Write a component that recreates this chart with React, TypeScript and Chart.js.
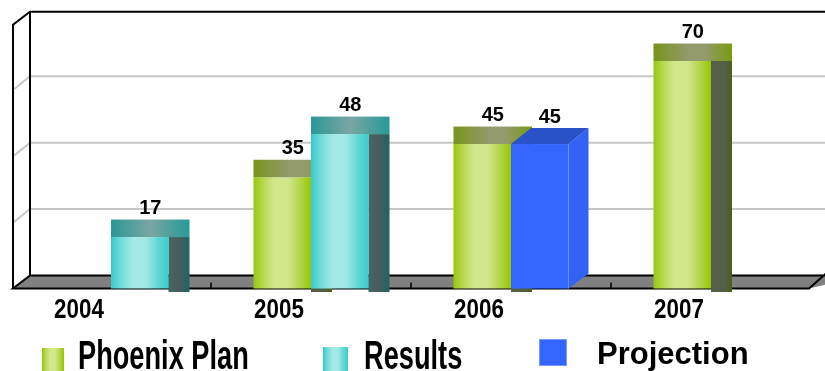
import React, { useEffect, useRef } from "react";
import { Chart, registerables } from "chart.js";

Chart.register(...registerables);

// ---- data ----
const years = ["2004", "2005", "2006", "2007"];
const phoenixPlan: (number | null)[] = [null, 35, 45, 70];
const results: (number | null)[] = [17, 48, null, null];
const projection: (number | null)[] = [null, null, 45, null];
const yMax = 80;
const gridValues = [20, 40, 60];
const legendLabels = ["Phoenix Plan", "Results", "Projection"];

// ---- styling ----
const SANS = "'Liberation Sans', Arial, sans-serif";
const SIDE_W = 21; // depth of bar side face
const TOP_H = 17.5; // height of bar top band
const WALL_DY = 18; // back wall offset (vertical) vs. front scale
const SIDE_DX = 17; // side wall depth
const SIDE_DY = 13;

function greenFront(ctx: CanvasRenderingContext2D, x0: number, x1: number) {
  const g = ctx.createLinearGradient(x0, 0, x1, 0);
  g.addColorStop(0, "#98C60C");
  g.addColorStop(0.15, "#B4D648");
  g.addColorStop(0.35, "#D2E68C");
  g.addColorStop(0.6, "#D2E68C");
  g.addColorStop(0.8, "#B6D64E");
  g.addColorStop(1, "#98C400");
  return g;
}
function greenTop(ctx: CanvasRenderingContext2D, x0: number, x1: number) {
  const g = ctx.createLinearGradient(x0, 0, x1, 0);
  g.addColorStop(0, "#78941C");
  g.addColorStop(0.45, "#939A6C");
  g.addColorStop(0.65, "#939A6C");
  g.addColorStop(1, "#789A10");
  return g;
}
function greenSide(ctx: CanvasRenderingContext2D, x0: number, x1: number) {
  const g = ctx.createLinearGradient(x0, 0, x1, 0);
  g.addColorStop(0, "#565E4C");
  g.addColorStop(0.7, "#545E44");
  g.addColorStop(1, "#4A6010");
  return g;
}
function cyanFront(ctx: CanvasRenderingContext2D, x0: number, x1: number) {
  const g = ctx.createLinearGradient(x0, 0, x1, 0);
  g.addColorStop(0, "#38CACA");
  g.addColorStop(0.2, "#78DEDC");
  g.addColorStop(0.4, "#A6EAE8");
  g.addColorStop(0.6, "#A2E8E6");
  g.addColorStop(0.85, "#5AD4D2");
  g.addColorStop(1, "#38CCCC");
  return g;
}
function cyanTop(ctx: CanvasRenderingContext2D, x0: number, x1: number) {
  const g = ctx.createLinearGradient(x0, 0, x1, 0);
  g.addColorStop(0, "#2A9896");
  g.addColorStop(0.5, "#7AA6A4");
  g.addColorStop(1, "#269A98");
  return g;
}
function cyanSide(ctx: CanvasRenderingContext2D, x0: number, x1: number) {
  const g = ctx.createLinearGradient(x0, 0, x1, 0);
  g.addColorStop(0, "#3C6A68");
  g.addColorStop(0.4, "#4E5A5A");
  g.addColorStop(1, "#1E6664");
  return g;
}

const BLUE_FRONT = "#3366FF";
const BLUE_TOP = "#2A52C8";
const BLUE_SIDE = "#3262F6";

function drawScaledText(
  ctx: CanvasRenderingContext2D,
  t: string,
  x: number,
  y: number,
  sx: number,
  align: "left" | "center"
) {
  ctx.save();
  ctx.translate(x, y);
  ctx.scale(sx, 1);
  ctx.textAlign = align;
  ctx.fillText(t, 0, 0);
  ctx.restore();
}

const chart3dPlugin = {
  id: "chart3d",
  beforeDatasetsDraw(chart: any) {
    const ctx: CanvasRenderingContext2D = chart.ctx;
    const ca = chart.chartArea;
    const ys = chart.scales.y;
    const xs = chart.scales.x;
    const W = chart.width;
    const backY = (v: number) => ys.getPixelForValue(v) - WALL_DY;
    const frontLeft = ca.left + 2;
    const backLeft = frontLeft + SIDE_DX;
    const floorBack = backY(0);
    const floorFront = floorBack + SIDE_DY;
    const topBack = backY(yMax) + 2;

    ctx.save();
    // side wall
    ctx.fillStyle = "#FFFFFF";
    ctx.beginPath();
    ctx.moveTo(frontLeft, floorFront);
    ctx.lineTo(frontLeft, topBack + SIDE_DY);
    ctx.lineTo(backLeft, topBack);
    ctx.lineTo(backLeft, floorBack);
    ctx.closePath();
    ctx.fill();

    // grid lines
    ctx.strokeStyle = "#C8C8C8";
    ctx.lineWidth = 2;
    for (const v of gridValues) {
      const y = backY(v);
      ctx.beginPath();
      ctx.moveTo(frontLeft + 1, y + SIDE_DY);
      ctx.lineTo(backLeft, y);
      ctx.lineTo(W + 2, y);
      ctx.stroke();
    }

    // floor
    ctx.fillStyle = "#808080";
    ctx.beginPath();
    ctx.moveTo(frontLeft, floorFront);
    ctx.lineTo(backLeft, floorBack);
    ctx.lineTo(W + 40, floorBack);
    ctx.lineTo(ca.right - 2, floorFront);
    ctx.closePath();
    ctx.fill();

    ctx.strokeStyle = "#000000";
    ctx.lineWidth = 2;
    ctx.lineJoin = "miter";
    ctx.beginPath();
    ctx.moveTo(W + 40, floorBack);
    ctx.lineTo(backLeft, floorBack);
    ctx.lineTo(frontLeft, floorFront);
    ctx.lineTo(ca.right - 2, floorFront);
    ctx.lineTo(ca.right + SIDE_DX - 2, floorBack - 2);
    ctx.stroke();
    ctx.beginPath();
    ctx.moveTo(frontLeft, floorFront);
    ctx.lineTo(frontLeft, topBack + SIDE_DY);
    ctx.lineTo(backLeft, topBack);
    ctx.lineTo(W + 2, topBack);
    ctx.moveTo(backLeft, topBack);
    ctx.lineTo(backLeft, floorBack);
    ctx.stroke();

    // small category ticks on the front floor edge
    ctx.lineWidth = 1.5;
    for (let i = 1; i < years.length; i++) {
      const x = (xs.getPixelForTick(i - 1) + xs.getPixelForTick(i)) / 2;
      ctx.beginPath();
      ctx.moveTo(x, floorFront - 6);
      ctx.lineTo(x, floorFront);
      ctx.stroke();
    }

    // category labels (condensed bold)
    ctx.fillStyle = "#000000";
    ctx.font = `bold 28px ${SANS}`;
    ctx.textBaseline = "alphabetic";
    for (let i = 0; i < years.length; i++) {
      const x = xs.getPixelForTick(i) - 32;
      drawScaledText(ctx, String(chart.data.labels[i]), x, 318, 0.8, "center");
    }
    ctx.restore();
  },
  afterDatasetsDraw(chart: any) {
    const ctx: CanvasRenderingContext2D = chart.ctx;
    const ys = chart.scales.y;
    const floorBack = ys.getPixelForValue(0) - WALL_DY;
    const floorFront = floorBack + SIDE_DY;
    const sideBottom = ys.getPixelForValue(0) - 1.5;
    const labels: { x: number; y: number; t: string }[] = [];

    ctx.save();
    chart.data.datasets.forEach((ds: any, di: number) => {
      const meta = chart.getDatasetMeta(di);
      meta.data.forEach((el: any, i: number) => {
        const v = ds.data[i];
        if (v === null || v === undefined) return;
        const fw = el.width;
        const left = el.x - fw / 2;
        const top = el.y;
        if (di === 2) {
          const dx = 20, dy = 16;
          ctx.fillStyle = BLUE_FRONT;
          ctx.fillRect(left, top, fw, floorFront - top);
          ctx.fillStyle = BLUE_SIDE;
          ctx.beginPath();
          ctx.moveTo(left + fw, top);
          ctx.lineTo(left + fw + dx, top - dy);
          ctx.lineTo(left + fw + dx, floorBack - 2);
          ctx.lineTo(left + fw, floorFront);
          ctx.closePath();
          ctx.fill();
          ctx.fillStyle = BLUE_TOP;
          ctx.beginPath();
          ctx.moveTo(left, top);
          ctx.lineTo(left + dx, top - dy);
          ctx.lineTo(left + fw + dx, top - dy);
          ctx.lineTo(left + fw, top);
          ctx.closePath();
          ctx.fill();
          ctx.strokeStyle = "rgba(120,150,255,0.8)";
          ctx.lineWidth = 1;
          ctx.beginPath();
          ctx.moveTo(left + fw, top);
          ctx.lineTo(left + fw, floorFront);
          ctx.stroke();
          labels.push({ x: left + (fw + dx) / 2, y: top - dy - 5, t: String(v) });
          return;
        }
        const isGreen = di === 0;
        const x1 = left + fw;
        const x2 = x1 + SIDE_W;
        ctx.fillStyle = isGreen ? greenSide(ctx, x1, x2) : cyanSide(ctx, x1, x2);
        ctx.fillRect(x1, top, SIDE_W, sideBottom - top);
        ctx.fillStyle = isGreen ? greenFront(ctx, left, x1) : cyanFront(ctx, left, x1);
        ctx.fillRect(left, top, fw, floorFront - top);
        ctx.fillStyle = isGreen ? greenTop(ctx, left, x2) : cyanTop(ctx, left, x2);
        ctx.fillRect(left, top - TOP_H, fw + SIDE_W, TOP_H);
        labels.push({ x: left + (fw + SIDE_W) / 2, y: top - TOP_H - 6, t: String(v) });
      });
    });

    ctx.fillStyle = "#000000";
    ctx.font = `bold 20px ${SANS}`;
    ctx.textBaseline = "alphabetic";
    for (const l of labels) drawScaledText(ctx, l.t, l.x, l.y, 1, "center");
    ctx.restore();
  },
  afterDraw(chart: any) {
    const ctx: CanvasRenderingContext2D = chart.ctx;
    ctx.save();
    ctx.fillStyle = greenFront(ctx, 42, 64);
    ctx.fillRect(42, 348, 22, 26);
    ctx.fillStyle = cyanFront(ctx, 323, 348);
    ctx.fillRect(323, 347, 25, 27);
    ctx.fillStyle = BLUE_FRONT;
    ctx.fillRect(539, 339, 28, 27);
    ctx.strokeStyle = "#7A98FF";
    ctx.lineWidth = 1;
    ctx.strokeRect(539.5, 339.5, 27, 26);

    ctx.fillStyle = "#000000";
    ctx.textBaseline = "alphabetic";
    ctx.font = `bold 40px ${SANS}`;
    drawScaledText(ctx, legendLabels[0], 78, 369, 0.68, "left");
    drawScaledText(ctx, legendLabels[1], 364, 369, 0.68, "left");
    ctx.font = `bold 31px ${SANS}`;
    drawScaledText(ctx, legendLabels[2], 597, 364, 1, "left");
    ctx.restore();
  },
};

export default function App() {
  const ref = useRef<HTMLCanvasElement | null>(null);
  useEffect(() => {
    if (!ref.current) return;
    const chart = new Chart(ref.current, {
      type: "bar",
      data: {
        labels: years,
        datasets: [
          { label: legendLabels[0], data: phoenixPlan, stack: "plan", backgroundColor: "rgba(0,0,0,0)", borderWidth: 0 },
          { label: legendLabels[1], data: results, stack: "actual", backgroundColor: "rgba(0,0,0,0)", borderWidth: 0 },
          { label: legendLabels[2], data: projection, stack: "actual", backgroundColor: "rgba(0,0,0,0)", borderWidth: 0 },
        ],
      },
      options: {
        responsive: false,
        animation: false,
        events: [],
        categoryPercentage: 0.575,
        barPercentage: 1,
        layout: { padding: { left: 11, right: 14, top: 27.8, bottom: 0 } },
        plugins: { legend: { display: false }, tooltip: { enabled: false } },
        scales: {
          x: {
            grid: { display: false, drawTicks: false },
            border: { display: false },
            ticks: { display: false },
            afterFit: (s: any) => {
              s.height = 77.5;
            },
          },
          y: {
            display: false,
            stacked: true,
            min: 0,
            max: yMax,
          },
        },
      } as any,
      plugins: [chart3dPlugin],
    });
    return () => chart.destroy();
  }, []);
  return (
    <div style={{ position: "fixed", left: 0, top: 0, width: 825, height: 371, background: "#FFFFFF" }}>
      <canvas ref={ref} width={825} height={371} style={{ display: "block", width: 825, height: 371 }} />
    </div>
  );
}
